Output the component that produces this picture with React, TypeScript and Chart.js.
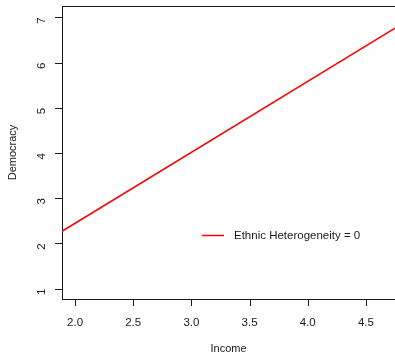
import React, { useEffect, useRef } from "react";
import { Chart, registerables } from "chart.js";

Chart.register(...registerables);

const incomeX: number[] = [1.888, 4.75];
const democracyY: number[] = [2.27, 6.76];
const seriesLabel = "Ethnic Heterogeneity = 0";
const xTitle = "Income";
const yTitle = "Democracy";
const xTickValues: number[] = [2.0, 2.5, 3.0, 3.5, 4.0, 4.5];
const yTickValues: number[] = [1, 2, 3, 4, 5, 6, 7];

const FONT = "'Liberation Sans', Arial, sans-serif";
const INK = "#1a1a1a";

export default function App() {
  const ref = useRef<HTMLCanvasElement | null>(null);
  useEffect(() => {
    if (!ref.current) return;
    const framePlugin = {
      id: "frame",
      afterDraw(chart: any) {
        const { ctx, chartArea } = chart;
        const xs = chart.scales.x;
        const ys = chart.scales.y;
        ctx.save();
        ctx.strokeStyle = INK;
        ctx.lineWidth = 1;
        ctx.beginPath();
        ctx.moveTo(chartArea.left, Math.round(chartArea.top) + 0.5);
        ctx.lineTo(chartArea.right, Math.round(chartArea.top) + 0.5);
        const by = Math.round(chartArea.bottom);
        xTickValues.forEach((v) => {
          const px = Math.round(xs.getPixelForValue(v)) + 0.5;
          ctx.moveTo(px, by);
          ctx.lineTo(px, by + 7);
        });
        const lxp = Math.round(chartArea.left);
        yTickValues.forEach((v) => {
          const py = Math.round(ys.getPixelForValue(v)) + 0.5;
          ctx.moveTo(lxp, py);
          ctx.lineTo(lxp - 7, py);
        });
        ctx.stroke();
        // legend
        const lx = 202, ly = 235.5;
        ctx.strokeStyle = "#ff0000";
        ctx.lineWidth = 1.5;
        ctx.beginPath();
        ctx.moveTo(lx, ly);
        ctx.lineTo(lx + 22, ly);
        ctx.stroke();
        ctx.fillStyle = INK;
        ctx.font = `11.5px ${FONT}`;
        ctx.textBaseline = "middle";
        ctx.textAlign = "left";
        ctx.fillText(seriesLabel, lx + 32, ly);
        ctx.restore();
      },
    };
    const chart = new Chart(ref.current, {
      type: "scatter",
      data: {
        datasets: [
          {
            label: seriesLabel,
            data: incomeX.map((x, i) => ({ x, y: democracyY[i] })),
            showLine: true,
            borderColor: "#ff0000",
            backgroundColor: "#ff0000",
            borderWidth: 1.5,
            pointRadius: 0,
            fill: false,
          },
        ],
      },
      options: {
        animation: false,
        responsive: false,
        layout: { padding: { top: 6, right: 0, left: 0, bottom: 0 } },
        plugins: { legend: { display: false }, tooltip: { enabled: false } },
        scales: {
          x: {
            type: "linear",
            min: 1.888,
            max: 4.75,
            afterFit: (s: any) => { s.height = 55; s.paddingLeft = 0; s.paddingRight = 0; },
            afterBuildTicks: (s: any) => { s.ticks = xTickValues.map((v) => ({ value: v })); },
            ticks: {
              includeBounds: false,
              color: INK,
              font: { family: FONT, size: 11.5 },
              padding: 10,
              maxRotation: 0,
              minRotation: 0,
              callback: (v: any) => Number(v).toFixed(1),
            },
            grid: { display: true, drawOnChartArea: false, drawTicks: true, tickLength: 7, color: INK, tickColor: "rgba(0,0,0,0)", lineWidth: 1 },
            border: { display: true, color: INK },
            title: { display: true, text: xTitle, color: INK, font: { family: FONT, size: 11 }, padding: { top: 4, bottom: -1.5 } },
          },
          y: {
            type: "linear",
            min: 0.772,
            max: 7.25,
            afterFit: (s: any) => { s.width = 62; s.paddingTop = 0; s.paddingBottom = 0; },
            afterBuildTicks: (s: any) => { s.ticks = yTickValues.map((v) => ({ value: v })); },
            ticks: {
              includeBounds: false,
              color: INK,
              font: { family: FONT, size: 11.5 },
              padding: 13,
              minRotation: 90,
              maxRotation: 90,
              callback: (v: any) => String(v),
            },
            grid: { display: true, drawOnChartArea: false, drawTicks: true, tickLength: 7, color: INK, tickColor: "rgba(0,0,0,0)", lineWidth: 1 },
            border: { display: true, color: INK },
            title: { display: true, text: yTitle, color: INK, font: { family: FONT, size: 11 }, padding: { top: 6.5, bottom: 0 } },
          },
        },
      },
      plugins: [framePlugin],
    } as any);
    return () => chart.destroy();
  }, []);
  return (
    <div style={{ position: "absolute", left: 0, top: 0, width: 395, height: 354, background: "#fff" }}>
      <canvas ref={ref} width={395} height={354} style={{ display: "block" }} />
    </div>
  );
}
